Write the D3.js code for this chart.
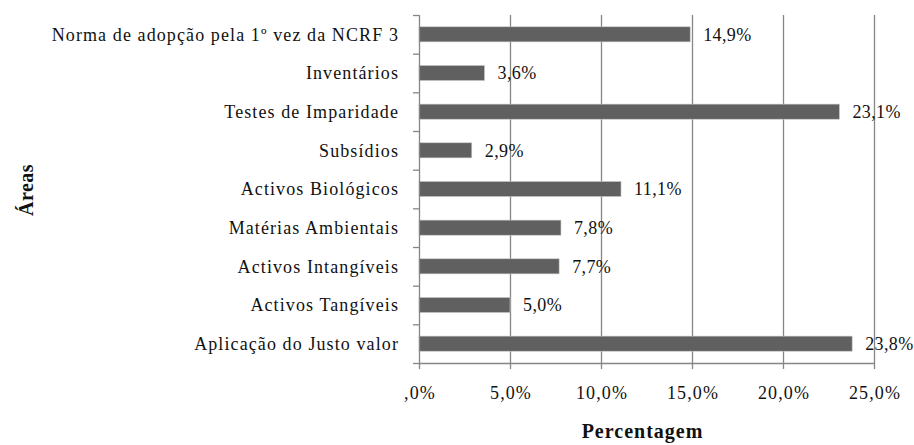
<!DOCTYPE html>
<html><head><meta charset="utf-8">
<script src="https://cdn.jsdelivr.net/npm/d3@7"></script>
<style>body{margin:0;background:#fff}text{font-family:"Liberation Serif","DejaVu Serif",serif;fill:#111}</style>
</head><body><svg id="c" width="914" height="445"></svg>
<script>
const categories = ["Norma de adopção pela 1º vez da NCRF 3","Inventários","Testes de Imparidade","Subsídios","Activos Biológicos","Matérias Ambientais","Activos Intangíveis","Activos Tangíveis","Aplicação do Justo valor"];
const values = [14.9,3.6,23.1,2.9,11.1,7.8,7.7,5.0,23.8];
const xTicks = [0,5,10,15,20,25];
const xTickLabels = [",0%","5,0%","10,0%","15,0%","20,0%","25,0%"];
const xTitle = "Percentagem";
const yTitle = "Áreas";

const svg = d3.select("#c");
const pL = 419, pR = 874, pT = 15, pB = 363;
const x = d3.scaleLinear().domain([0,25]).range([pL,pR]);
const y = d3.scaleBand().domain(categories).range([pT,pB]).paddingInner(0.61).paddingOuter(0.305);
const grid = "#868686";
const fs = 18, ls = "1.1px";

// gridlines
svg.append("g").selectAll("line").data(xTicks.slice(1)).join("line")
  .attr("x1",d=>x(d)+0.5).attr("x2",d=>x(d)+0.5).attr("y1",pT).attr("y2",pB)
  .attr("stroke",grid).attr("stroke-width",1.3);

// bars
svg.append("g").selectAll("rect").data(values).join("rect")
  .attr("x",x(0)).attr("y",(d,i)=>y(categories[i]))
  .attr("width",d=>x(d)-x(0)).attr("height",y.bandwidth())
  .attr("fill","#606060").attr("stroke","#c8c8c8").attr("stroke-width",0.6);

// value labels
svg.append("g").selectAll("text").data(values).join("text")
  .attr("x",d=>x(d)+13).attr("y",(d,i)=>y(categories[i])+y.bandwidth()/2)
  .attr("dy","0.35em").attr("font-size",fs).attr("letter-spacing","0.4px")
  .text(d=>d3.format(".1f")(d).replace(".",",")+"%");

// y axis
const yEdges = d3.range(categories.length+1).map(i=>pT+i*((pB-pT)/categories.length));
svg.append("line").attr("x1",pL+0.5).attr("x2",pL+0.5).attr("y1",pT).attr("y2",pB).attr("stroke",grid).attr("stroke-width",1.3);
svg.append("g").selectAll("line").data(yEdges).join("line")
  .attr("x1",pL-6).attr("x2",pL).attr("y1",d=>d+0.5).attr("y2",d=>d+0.5).attr("stroke",grid).attr("stroke-width",1.3);
svg.append("g").selectAll("text").data(categories).join("text")
  .attr("x",pL-20).attr("y",d=>y(d)+y.bandwidth()/2).attr("dy","0.35em")
  .attr("text-anchor","end").attr("font-size",fs).attr("letter-spacing",ls).text(d=>d);

// x axis
svg.append("line").attr("x1",pL).attr("x2",pR+1).attr("y1",pB+0.5).attr("y2",pB+0.5).attr("stroke",grid).attr("stroke-width",1.3);
svg.append("g").selectAll("line").data(xTicks).join("line")
  .attr("x1",d=>x(d)+0.5).attr("x2",d=>x(d)+0.5).attr("y1",pB).attr("y2",pB+6).attr("stroke",grid).attr("stroke-width",1.3);
svg.append("g").selectAll("text").data(xTicks).join("text")
  .attr("x",d=>x(d)+1).attr("y",399).attr("text-anchor","middle").attr("font-size",fs).attr("letter-spacing",ls)
  .text((d,i)=>xTickLabels[i]);

svg.append("text").attr("x",(pL+pR)/2-4).attr("y",438).attr("text-anchor","middle")
  .attr("font-size",20).attr("font-weight","bold").attr("letter-spacing","1px").text(xTitle);
svg.append("text").attr("transform","translate(33,190) rotate(-90)").attr("text-anchor","middle")
  .attr("font-size",20).attr("font-weight","bold").attr("letter-spacing","0.5px").text(yTitle);
</script></body></html>
